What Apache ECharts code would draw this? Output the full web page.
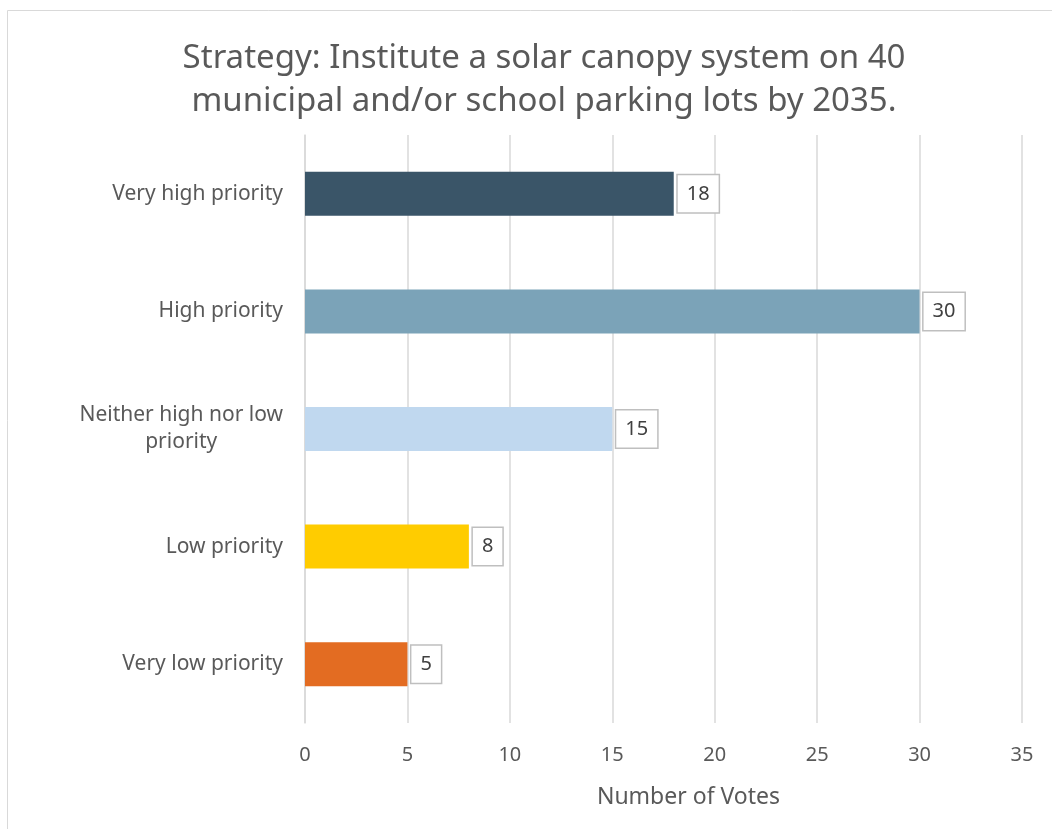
<!DOCTYPE html>
<html>
<head>
<meta charset="utf-8">
<script src="https://cdn.jsdelivr.net/npm/echarts@6/dist/echarts.min.js"></script>
<style>
  html, body {margin: 0; padding: 0; background: #fff;}
  #main {width: 1052px; height: 829px;}
</style>
</head>
<body>
<div id="main"></div>
<script>
  const categories = ['Very high priority', 'High priority', 'Neither high nor low priority', 'Low priority', 'Very low priority'];
  const votes = [18, 30, 15, 8, 5];
  const barColors = ['#3a5568', '#7ba3b8', '#c0d8ef', '#ffcc00', '#e36c22'];
  const xTicks = {min: 0, max: 35, interval: 5};

  const chart = echarts.init(document.getElementById('main'));

  // 每个柱子单独配色
  const barData = votes.map(function (v, i) {
    return {value: v, itemStyle: {color: barColors[i]}};
  });

  chart.setOption({
    animation: false,
    title: {
      text: 'Strategy: Institute a solar canopy system on 40\nmunicipal and/or school parking lots by 2035.',
      left: 539,
      top: 32,
      textAlign: 'center',
      textStyle: {fontFamily: 'Noto Sans', fontWeight: 'normal', fontSize: 33, color: '#595959', lineHeight: 43}
    },
    graphic: [{
      type: 'rect',
      shape: {x: 7.5, y: 10.5, width: 1200, height: 1000},
      style: {fill: 'none', stroke: '#d9d9d9', lineWidth: 1}
    }],
    grid: {left: 305, right: 30, top: 135, bottom: 106},
    xAxis: {
      type: 'value',
      min: xTicks.min,
      max: xTicks.max,
      interval: xTicks.interval,
      name: 'Number of Votes',
      nameLocation: 'middle',
      nameGap: 63,
      nameTextStyle: {fontFamily: 'Noto Sans', fontSize: 23, color: '#595959', padding: [0, 0, 0, 50]},
      axisLine: {show: false},
      axisTick: {show: false},
      axisLabel: {margin: 22, fontFamily: 'Noto Sans', fontSize: 20, color: '#595959'},
      splitLine: {lineStyle: {color: '#d9d9d9', width: 1.5}}
    },
    yAxis: {
      type: 'category',
      inverse: true,
      data: categories,
      axisLine: {show: true, lineStyle: {color: '#d9d9d9', width: 1.5}},
      axisTick: {show: false},
      axisLabel: {
        margin: 22,
        formatter: function (v) {
          if (v === 'Neither high nor low priority') {
            return '{a|Neither high nor low}\n{a|priority}';
          }
          return '{a|' + v + '}';
        },
        rich: {a: {fontFamily: 'Noto Sans', fontSize: 21, color: '#595959', align: 'center', lineHeight: 27}}
      }
    },
    series: [{
      type: 'bar',
      data: barData,
      barWidth: 44,
      label: {
        show: true,
        position: 'right',
        distance: 4,
        fontFamily: 'Noto Sans',
        fontSize: 20,
        lineHeight: 22,
        color: '#404040',
        backgroundColor: '#fff',
        borderColor: '#bfbfbf',
        borderWidth: 1.5,
        padding: [8, 9, 7, 9]
      }
    }]
  });
</script>
</body>
</html>
